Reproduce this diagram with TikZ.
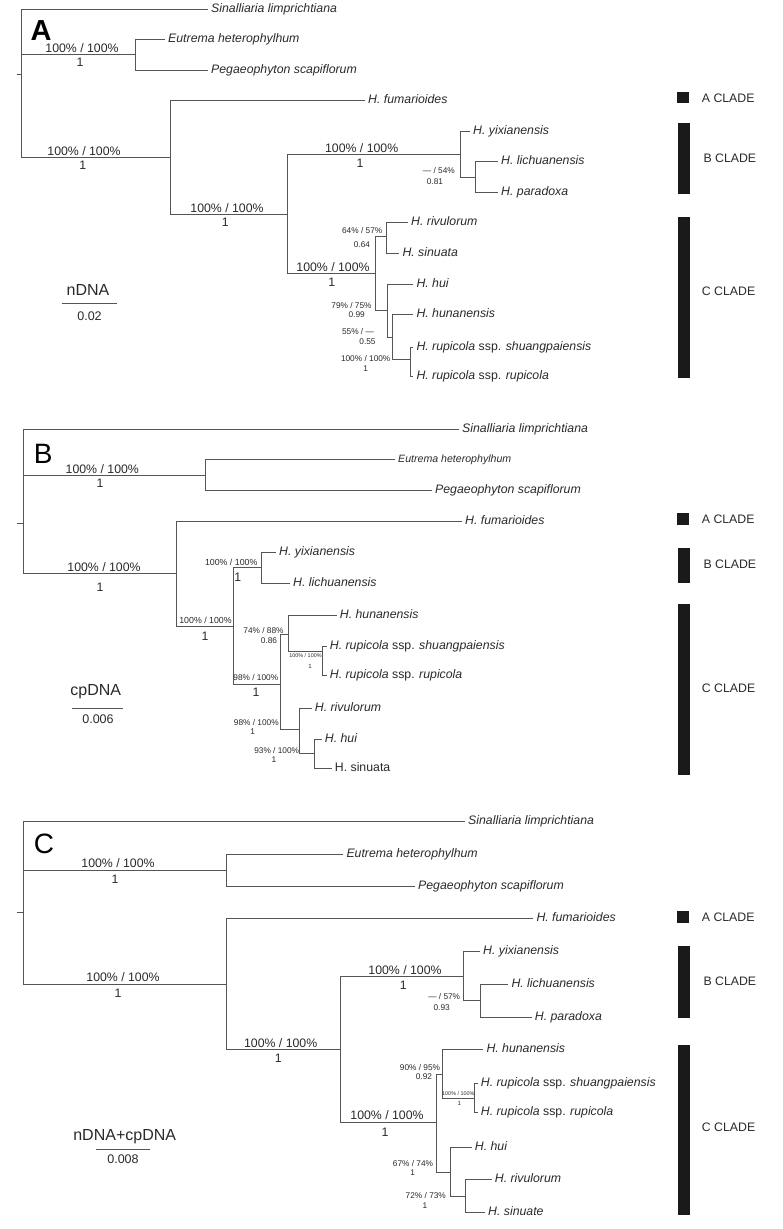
\documentclass[tikz,border=0pt]{standalone}
\usepackage{fontspec}
\setmainfont{Liberation Sans}
\definecolor{lc}{HTML}{555555}
\definecolor{tc}{HTML}{2A2A2A}
\definecolor{barc}{HTML}{1A1A1A}
\tikzset{
 br/.style={draw=lc, line width=0.9pt},
 taxon/.style={anchor=west, inner xsep=3pt, inner ysep=0pt, text=tc, font=\fontsize{12.3}{14}\selectfont\itshape, text height=8.8pt, text depth=2.4pt},
 taxsm/.style={taxon, font=\fontsize{10.6}{12}\selectfont\itshape, text height=7.6pt, text depth=2pt},
 supL/.style={inner sep=0pt, text=tc, font=\fontsize{12.3}{14}\selectfont, text height=8.8pt, text depth=0pt},
 supM/.style={inner sep=0pt, text=tc, font=\fontsize{8.3}{10}\selectfont, text height=6pt, text depth=0pt},
 supS/.style={inner sep=0pt, text=tc, font=\fontsize{5.4}{6}\selectfont, text height=3.9pt, text depth=0pt},
 cladelab/.style={anchor=west, inner sep=0pt, text=tc, font=\fontsize{12.3}{14}\selectfont, text height=8.8pt, text depth=0pt},
 barbox/.style={fill=barc, draw=none},
 scalelab/.style={inner sep=0pt, text=tc, font=\fontsize{16}{18}\selectfont, text height=11.5pt, text depth=0pt},
 scalenum/.style={inner sep=0pt, text=tc, font=\fontsize{12.5}{14}\selectfont, text height=9pt, text depth=0pt},
 panel/.style={inner sep=0pt, text=black, text height=20.5pt, text depth=0pt},
}
\begin{document}
\begin{tikzpicture}[x=1pt,y=-1pt]
\useasboundingbox[fill=white] (0,0) rectangle (783,1229);

% ================= PANEL A =================
\node[panel, font=\fontsize{29}{30}\selectfont\bfseries] (labA) at (41,30.5) {A};
\coordinate (Ast) at (16.7,74);
\coordinate (Ar) at (21.3,74);
\coordinate (Ao) at (135.7,54.3);
\coordinate (Ah) at (170.7,157.3);
\coordinate (Ah2) at (287.7,214);
\coordinate (AB) at (460,154);
\coordinate (AB2) at (475.7,177.3);
\coordinate (AC) at (375,273.3);
\coordinate (AC1) at (386.5,236);
\coordinate (AC2) at (387.3,310.7);
\coordinate (AC3) at (392.7,337.3);
\coordinate (AC4) at (410,359.3);
\node[taxon] (Asin) at (208,9.3) {Sinalliaria limprichtiana};
\node[taxon] (Aeut) at (165,39.3) {Eutrema heterophylhum};
\node[taxon] (Apeg) at (208,70.3) {Pegaeophyton scapiflorum};
\node[taxon] (Afum) at (365,100.7) {H. fumarioides};
\node[taxon] (Ayix) at (470,131.7) {H. yixianensis};
\node[taxon] (Alic) at (498,161.7) {H. lichuanensis};
\node[taxon] (Apar) at (498,192.7) {H. paradoxa};
\node[taxon] (Ariv) at (408,222.3) {H. rivulorum};
\node[taxon] (Asnu) at (399.3,253.3) {H. sinuata};
\node[taxon] (Ahui) at (413.3,284.3) {H. hui};
\node[taxon] (Ahun) at (413.3,314.3) {H. hunanensis};
\node[taxon] (Ashu) at (413.3,347.3) {H. rupicola \textup{ssp.} shuangpaiensis};
\node[taxon] (Arup) at (413.3,376) {H. rupicola \textup{ssp.} rupicola};
\draw[br] (Ast) -- (Ar);
\draw[br] (Ar) |- (Asin.west);
\draw[br] (Ar) |- (Ao);
\draw[br] (Ar) |- (Ah);
\draw[br] (Ao) |- (Aeut.west);
\draw[br] (Ao) |- (Apeg.west);
\draw[br] (Ah) |- (Afum.west);
\draw[br] (Ah) |- (Ah2);
\draw[br] (Ah2) |- (AB);
\draw[br] (Ah2) |- (AC);
\draw[br] (AB) |- (Ayix.west);
\draw[br] (AB) |- (AB2);
\draw[br] (AB2) |- (Alic.west);
\draw[br] (AB2) |- (Apar.west);
\draw[br] (AC) |- (AC1);
\draw[br] (AC) |- (AC2);
\draw[br] (AC1) |- (Ariv.west);
\draw[br] (AC1) |- (Asnu.west);
\draw[br] (AC2) |- (Ahui.west);
\draw[br] (AC2) |- (AC3);
\draw[br] (AC3) |- (Ahun.west);
\draw[br] (AC3) |- (AC4);
\draw[br] (AC4) |- (Ashu.west);
\draw[br] (AC4) |- (Arup.west);
% supports
\node[supL] (sA1) at (82,48.5) {100\% / 100\%};
\node[supL] (sA1b) at (80,62) {1};
\node[supL] (sA2) at (84,151) {100\% / 100\%};
\node[supL] (sA2b) at (82.7,165.3) {1};
\node[supL] (sA3) at (227,208) {100\% / 100\%};
\node[supL] (sA3b) at (225.3,222.3) {1};
\node[supL] (sA4) at (361.7,148) {100\% / 100\%};
\node[supL] (sA4b) at (360,162.7) {1};
\node[supM, anchor=east] (sA5) at (455,170.7) {— / 54\%};
\node[supM] (sA5b) at (435,181.7) {0.81};
\node[supL] (sA6) at (333,266.7) {100\% / 100\%};
\node[supL] (sA6b) at (331.7,281.7) {1};
\node[supM] (sA7) at (362.2,230.5) {64\% / 57\%};
\node[supM] (sA7b) at (362,244.5) {0.64};
\node[supM] (sA8) at (351.5,305.2) {79\% / 75\%};
\node[supM] (sA8b) at (356.7,314) {0.99};
\node[supM] (sA9) at (358,331.2) {55\% / —};
\node[supM] (sA9b) at (367.5,341.7) {0.55};
\node[supM] (sA10) at (365.7,358.3) {100\% / 100\%};
\node[supM] (sA10b) at (365.7,368.3) {1};
% scale
\node[scalelab] (scA) at (88,290) {nDNA};
\coordinate (scA1) at (61.7,303.3);
\coordinate (scA2) at (117.3,303.3);
\draw[br, line width=0.7pt] (scA1) -- (scA2);
\node[scalenum] (scAn) at (89.5,315.7) {0.02};
% clades
\fill[barbox] (677.3,91.7) rectangle (689.3,103.3);
\fill[barbox] (677.7,122.7) rectangle (690,194.3);
\fill[barbox] (677.7,216.7) rectangle (690,377.7);
\node[cladelab] (cAA) at (701.7,98.3) {A CLADE};
\node[cladelab] (cAB) at (703.3,158.3) {B CLADE};
\node[cladelab] (cAC) at (701.7,290.7) {C CLADE};

% ================= PANEL B =================
\node[panel, font=\fontsize{28}{30}\selectfont] (labB) at (43.3,453) {B};
\coordinate (Bst) at (16.7,523.3);
\coordinate (Br) at (23.3,523.3);
\coordinate (Bo) at (205,475.3);
\coordinate (Bh) at (176.7,573);
\coordinate (Bh2) at (233.3,626);
\coordinate (BB) at (261.7,567.7);
\coordinate (BC) at (280,684);
\coordinate (BC1) at (288.3,634.5);
\coordinate (BC1a) at (322.3,651.7);
\coordinate (BC2) at (299.3,729.3);
\coordinate (BC2a) at (314.3,753.3);
\node[taxon] (Bsin) at (459,429.3) {Sinalliaria limprichtiana};
\node[taxsm] (Beut) at (395,459.3) {Eutrema heterophylhum};
\node[taxon] (Bpeg) at (432,490.7) {Pegaeophyton scapiflorum};
\node[taxon] (Bfum) at (462,521.7) {H. fumarioides};
\node[taxon] (Byix) at (276,552.3) {H. yixianensis};
\node[taxon] (Blic) at (290,583.3) {H. lichuanensis};
\node[taxon] (Bhun) at (336.7,615) {H. hunanensis};
\node[taxon] (Bshu) at (326.7,646) {H. rupicola \textup{ssp.} shuangpaiensis};
\node[taxon] (Brup) at (326.7,675) {H. rupicola \textup{ssp.} rupicola};
\node[taxon] (Briv) at (311.7,708.3) {H. rivulorum};
\node[taxon] (Bhui) at (321.7,739.3) {H. hui};
\node[taxon, font=\fontsize{12.3}{14}\selectfont] (Bsnu) at (331.7,768.3) {H. sinuata};
\draw[br] (Bst) -- (Br);
\draw[br] (Br) |- (Bsin.west);
\draw[br] (Br) |- (Bo);
\draw[br] (Br) |- (Bh);
\draw[br] (Bo) |- (Beut.west);
\draw[br] (Bo) |- (Bpeg.west);
\draw[br] (Bh) |- (Bfum.west);
\draw[br] (Bh) |- (Bh2);
\draw[br] (Bh2) |- (BB);
\draw[br] (Bh2) |- (BC);
\draw[br] (BB) |- (Byix.west);
\draw[br] (BB) |- (Blic.west);
\draw[br] (BC) |- (BC1);
\draw[br] (BC) |- (BC2);
\draw[br] (BC1) |- (Bhun.west);
\draw[br] (BC1) |- (BC1a);
\draw[br] (BC1a) |- (Bshu.west);
\draw[br] (BC1a) |- (Brup.west);
\draw[br] (BC2) |- (Briv.west);
\draw[br] (BC2) |- (BC2a);
\draw[br] (BC2a) |- (Bhui.west);
\draw[br] (BC2a) |- (Bsnu.west);
% supports
\node[supL] (sB1) at (102.3,469.3) {100\% / 100\%};
\node[supL] (sB1b) at (100,483.3) {1};
\node[supL] (sB2) at (104,567.3) {100\% / 100\%};
\node[supL] (sB2b) at (100,586.7) {1};
\node[supM, font=\fontsize{8.8}{10}\selectfont] (sB3) at (205.5,620) {100\% / 100\%};
\node[supL] (sB3b) at (205,636) {1};
\node[supM, font=\fontsize{8.8}{10}\selectfont] (sB4) at (231.2,562.3) {100\% / 100\%};
\node[supL] (sB4b) at (237.7,576.7) {1};
\node[supM] (sB5) at (255.8,677.7) {98\% / 100\%};
\node[supL] (sB5b) at (256,691.7) {1};
\node[supM] (sB6) at (263.5,630.5) {74\% / 88\%};
\node[supM] (sB6b) at (269,640.7) {0.86};
\node[supS] (sB7) at (305.5,656) {100\% / 100\%};
\node[supS, font=\fontsize{6}{7}\selectfont] (sB7b) at (310,666.7) {1};
\node[supM] (sB8) at (256.3,722.3) {98\% / 100\%};
\node[supM] (sB8b) at (252.7,731) {1};
\node[supM] (sB9) at (276.7,750) {93\% / 100\%};
\node[supM] (sB9b) at (274,759.3) {1};
% scale
\node[scalelab] (scB) at (95.7,689.3) {cpDNA};
\coordinate (scB1) at (71.7,708.3);
\coordinate (scB2) at (122.7,708.3);
\draw[br, line width=0.7pt] (scB1) -- (scB2);
\node[scalenum] (scBn) at (98,719.3) {0.006};
% clades
\fill[barbox] (677.3,513) rectangle (689.3,525);
\fill[barbox] (677.7,548) rectangle (690,583);
\fill[barbox] (677.7,604) rectangle (690,775);
\node[cladelab] (cBA) at (701.7,519) {A CLADE};
\node[cladelab] (cBB) at (703.3,564) {B CLADE};
\node[cladelab] (cBC) at (701.7,688) {C CLADE};

% ================= PANEL C =================
\node[panel, font=\fontsize{28}{30}\selectfont] (labC) at (44,843.7) {C};
\coordinate (Cst) at (16.7,912.7);
\coordinate (Cr) at (23.3,912.7);
\coordinate (Co) at (226,870.3);
\coordinate (Ch) at (226,984);
\coordinate (Ch2) at (340,1049.3);
\coordinate (CB) at (463.3,976);
\coordinate (CB2) at (480.7,1000);
\coordinate (CC) at (436.7,1122.7);
\coordinate (CC1) at (442.7,1074);
\coordinate (CC1a) at (474,1098.3);
\coordinate (CC2) at (450,1172.3);
\coordinate (CC2a) at (465,1196.7);
\node[taxon] (Csin) at (465,821.7) {Sinalliaria limprichtiana};
\node[taxon] (Ceut) at (343.3,854) {Eutrema heterophylhum};
\node[taxon] (Cpeg) at (415,886.7) {Pegaeophyton scapiflorum};
\node[taxon] (Cfum) at (533.3,918.5) {H. fumarioides};
\node[taxon] (Cyix) at (480,951.7) {H. yixianensis};
\node[taxon] (Clic) at (508.3,984) {H. lichuanensis};
\node[taxon] (Cpar) at (531.7,1017.3) {H. paradoxa};
\node[taxon] (Chun) at (483.3,1049.3) {H. hunanensis};
\node[taxon] (Cshu) at (477.7,1083.3) {H. rupicola \textup{ssp.} shuangpaiensis};
\node[taxon] (Crup) at (477.7,1112.7) {H. rupicola \textup{ssp.} rupicola};
\node[taxon] (Chui) at (471.7,1147.3) {H. hui};
\node[taxon] (Criv) at (491.7,1179.3) {H. rivulorum};
\node[taxon] (Csnu) at (485,1212.7) {H. sinuate};
\draw[br] (Cst) -- (Cr);
\draw[br] (Cr) |- (Csin.west);
\draw[br] (Cr) |- (Co);
\draw[br] (Cr) |- (Ch);
\draw[br] (Co) |- (Ceut.west);
\draw[br] (Co) |- (Cpeg.west);
\draw[br] (Ch) |- (Cfum.west);
\draw[br] (Ch) |- (Ch2);
\draw[br] (Ch2) |- (CB);
\draw[br] (Ch2) |- (CC);
\draw[br] (CB) |- (Cyix.west);
\draw[br] (CB) |- (CB2);
\draw[br] (CB2) |- (Clic.west);
\draw[br] (CB2) |- (Cpar.west);
\draw[br] (CC) |- (CC1);
\draw[br] (CC) |- (CC2);
\draw[br] (CC1) |- (Chun.west);
\draw[br] (CC1) |- (CC1a);
\draw[br] (CC1a) |- (Cshu.west);
\draw[br] (CC1a) |- (Crup.west);
\draw[br] (CC2) |- (Chui.west);
\draw[br] (CC2) |- (CC2a);
\draw[br] (CC2a) |- (Criv.west);
\draw[br] (CC2a) |- (Csnu.west);
% supports
\node[supL] (sC1) at (118,862.7) {100\% / 100\%};
\node[supL] (sC1b) at (115,879.3) {1};
\node[supL] (sC2) at (123,977.3) {100\% / 100\%};
\node[supL] (sC2b) at (118,992.7) {1};
\node[supL] (sC3) at (280.7,1042.7) {100\% / 100\%};
\node[supL] (sC3b) at (278.3,1058.3) {1};
\node[supL] (sC4) at (405,970) {100\% / 100\%};
\node[supL] (sC4b) at (403.3,985) {1};
\node[supM] (sC5) at (444.2,996) {— / 57\%};
\node[supM] (sC5b) at (441.7,1007.3) {0.93};
\node[supL] (sC6) at (387,1115) {100\% / 100\%};
\node[supL] (sC6b) at (385,1131.7) {1};
\node[supM] (sC7) at (420,1067.7) {90\% / 95\%};
\node[supM] (sC7b) at (424,1076.7) {0.92};
\node[supS] (sC8) at (458.3,1093.3) {100\% / 100\%};
\node[supS, font=\fontsize{6}{7}\selectfont] (sC8b) at (459.3,1104) {1};
\node[supM] (sC9) at (413,1163.3) {67\% / 74\%};
\node[supM] (sC9b) at (412.7,1172.7) {1};
\node[supM] (sC10) at (425.8,1195.7) {72\% / 73\%};
\node[supM] (sC10b) at (425,1205) {1};
% scale
\node[scalelab] (scC) at (124.7,1135) {nDNA+cpDNA};
\coordinate (scC1) at (95.7,1149);
\coordinate (scC2) at (150,1149);
\draw[br, line width=0.7pt] (scC1) -- (scC2);
\node[scalenum] (scCn) at (123,1159) {0.008};
% clades
\fill[barbox] (677.3,911) rectangle (689.3,923);
\fill[barbox] (677.7,946) rectangle (690,1018);
\fill[barbox] (677.7,1045) rectangle (690,1215);
\node[cladelab] (cCA) at (701.7,917) {A CLADE};
\node[cladelab] (cCB) at (703.3,981) {B CLADE};
\node[cladelab] (cCC) at (701.7,1127) {C CLADE};
\end{tikzpicture}
\end{document}
